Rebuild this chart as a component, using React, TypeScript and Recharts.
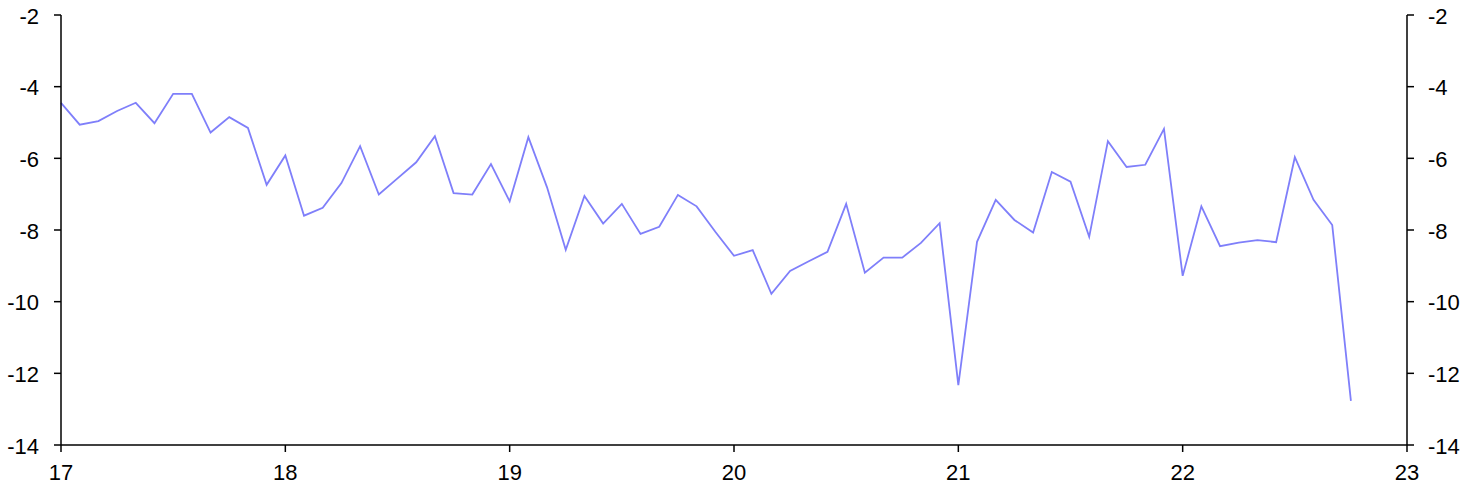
import { LineChart, Line, XAxis, YAxis } from "recharts"

// monthly readings, Jan 2017 onward
const startYear = 17
const values = [
    -4.45, -5.06, -4.96, -4.68, -4.45, -5.02, -4.2, -4.2, -5.28, -4.85, -5.15, -6.74,
    -5.92, -7.6, -7.38, -6.69, -5.66, -7.01, -6.56, -6.11, -5.38, -6.97, -7.01, -6.16,
    -7.2, -5.41, -6.81, -8.55, -7.05, -7.82, -7.27, -8.11, -7.91, -7.02, -7.34, -8.05,
    -8.72, -8.56, -9.78, -9.14, -8.87, -8.61, -7.27, -9.19, -8.77, -8.77, -8.36, -7.81,
    -12.33, -8.33, -7.16, -7.72, -8.07, -6.38, -6.65, -8.19, -5.52, -6.24, -6.18, -5.18,
    -9.28, -7.34, -8.45, -8.35, -8.28, -8.34, -5.97, -7.16, -7.86, -12.77,
]
const xTicks = [17, 18, 19, 20, 21, 22, 23]
const yTicks = [-14, -12, -10, -8, -6, -4, -2]

const data = values.map((v, i) => ({ t: startYear + i / 12, v }))

const font = "Liberation Sans, Arial, sans-serif"
const axisLine = { stroke: "#000", strokeWidth: 1.5 }

function Tick(props: any) {
    const { x, y, payload, textAnchor, dy } = props
    return (
        <text
            x={x}
            y={y}
            dy={dy}
            textAnchor={textAnchor}
            fill="#000"
            fontSize={22}
            fontFamily={font}
        >
            {payload.value}
        </text>
    )
}

export default function App() {
    return (
        <div style={{ position: "absolute", left: 0, top: 0, background: "#fff" }}>
            <LineChart
                width={1468}
                height={491}
                data={data}
                margin={{ top: 15, right: 0, bottom: 0, left: 0 }}
            >
                <XAxis
                    dataKey="t"
                    type="number"
                    domain={[17, 23]}
                    ticks={xTicks}
                    height={46}
                    tick={(p: any) => <Tick {...p} dy="0.72em" />}
                    tickSize={7}
                    tickMargin={12}
                    axisLine={axisLine}
                    tickLine={axisLine}
                />
                <YAxis
                    yAxisId="left"
                    domain={[-14, -2]}
                    ticks={yTicks}
                    width={61}
                    tick={(p: any) => <Tick {...p} dy="0.4em" />}
                    tickSize={7}
                    tickMargin={15}
                    axisLine={axisLine}
                    tickLine={axisLine}
                />
                <YAxis
                    yAxisId="right"
                    orientation="right"
                    domain={[-14, -2]}
                    allowDataOverflow
                    ticks={yTicks}
                    width={61}
                    tick={(p: any) => <Tick {...p} dy="0.4em" />}
                    tickSize={7}
                    tickMargin={14}
                    axisLine={axisLine}
                    tickLine={axisLine}
                />
                <Line
                    yAxisId="left"
                    dataKey="v"
                    type="linear"
                    stroke="#7f7ffa"
                    strokeWidth={1.8}
                    dot={false}
                    isAnimationActive={false}
                />
            </LineChart>
        </div>
    )
}
